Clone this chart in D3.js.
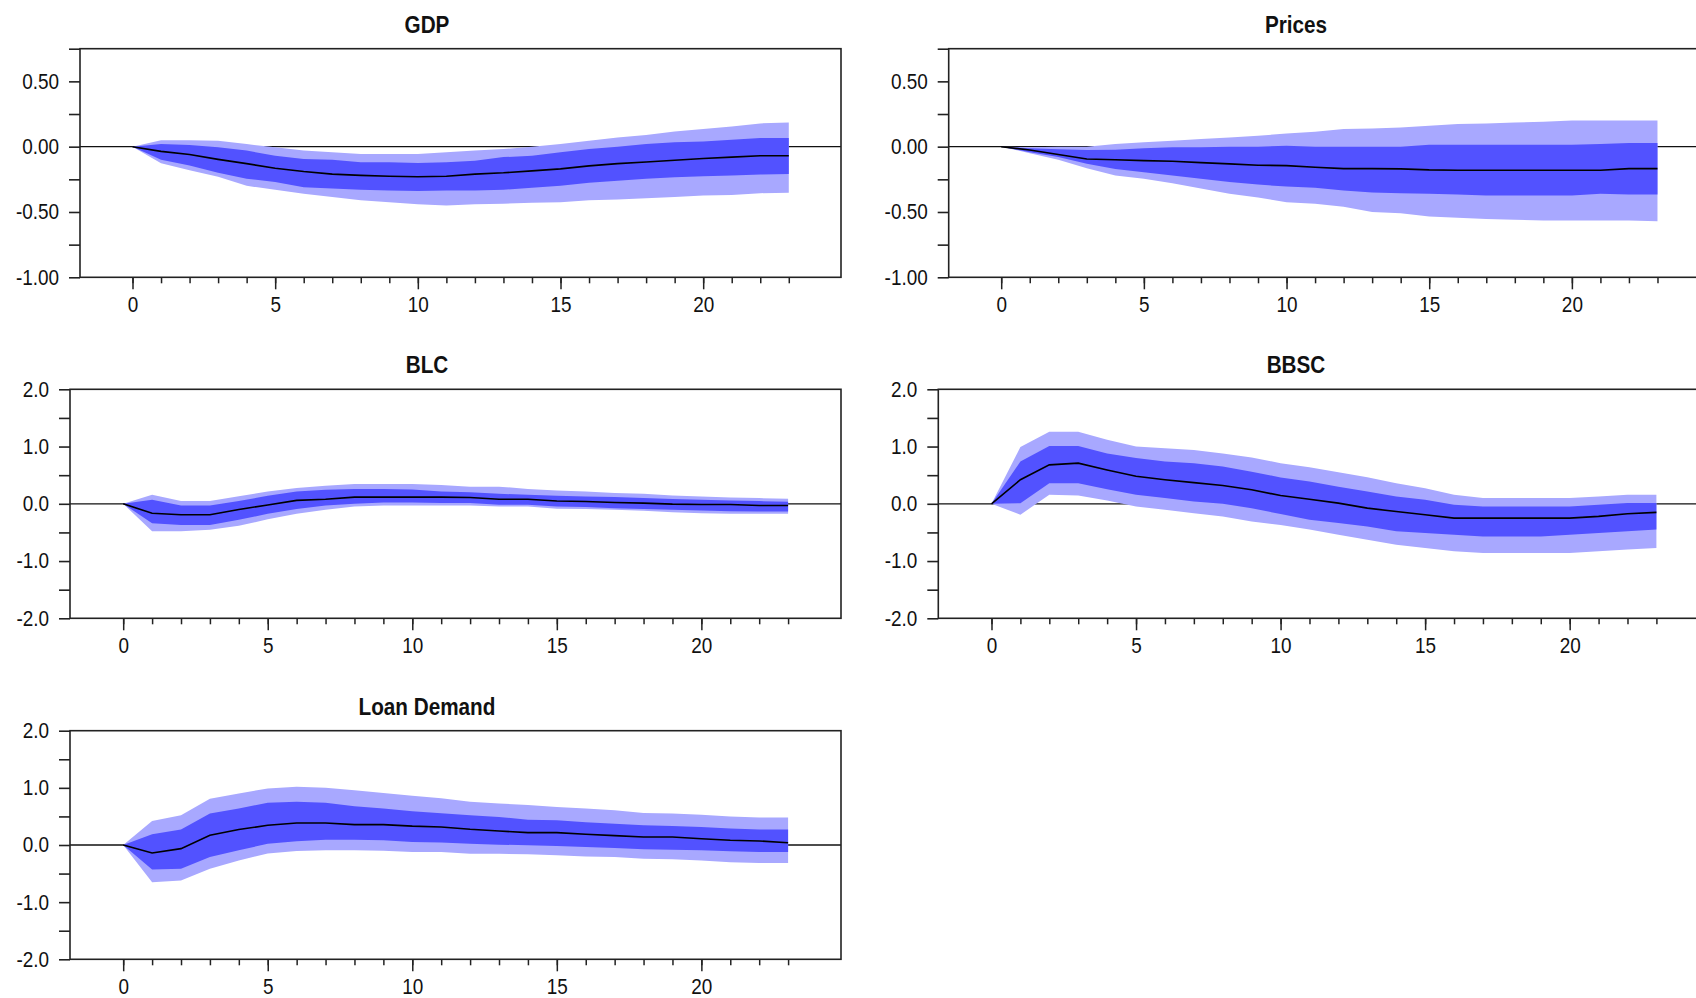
<!DOCTYPE html>
<html>
<head>
<meta charset="utf-8">
<title>Impulse responses</title>
<script src="https://cdn.jsdelivr.net/npm/d3@7"></script>
<style>
  body { margin: 0; background: #fff; }
  svg text { font-family: "Liberation Sans", Arial, sans-serif; fill: #111; }
  .title { font-weight: bold; font-size: 23px; }
  .tick text { font-size: 21.5px; }
</style>
</head>
<body>
<svg id="chart" width="1696" height="998"></svg>
<script>
// horizons (quarters after the shock)
var steps = [0, 1, 2, 3, 4, 5, 6, 7, 8, 9, 10, 11, 12, 13, 14, 15, 16, 17, 18, 19, 20, 21, 22, 23];
var xLabels = [0, 5, 10, 15, 20];

// GDP
var gdpMean = [0, -0.036, -0.06, -0.097, -0.13, -0.165, -0.19, -0.21, -0.22, -0.226, -0.23, -0.226, -0.21, -0.2, -0.185, -0.17, -0.147, -0.13, -0.117, -0.104, -0.09, -0.08, -0.07, -0.07];
var gdpHi90 = [0, 0.05, 0.05, 0.045, 0.02, -0.005, -0.03, -0.043, -0.056, -0.056, -0.056, -0.043, -0.03, -0.018, 0.0, 0.02, 0.045, 0.07, 0.09, 0.117, 0.135, 0.155, 0.178, 0.185];
var gdpHi68 = [0, 0.02, 0.013, -0.005, -0.03, -0.07, -0.095, -0.1, -0.12, -0.12, -0.125, -0.12, -0.107, -0.08, -0.07, -0.043, -0.018, 0.0, 0.02, 0.033, 0.04, 0.053, 0.066, 0.066];
var gdpLo68 = [0, -0.1, -0.145, -0.2, -0.245, -0.27, -0.31, -0.32, -0.33, -0.335, -0.34, -0.335, -0.335, -0.33, -0.315, -0.3, -0.277, -0.26, -0.245, -0.234, -0.226, -0.22, -0.213, -0.21];
var gdpLo90 = [0, -0.127, -0.18, -0.23, -0.3, -0.33, -0.36, -0.385, -0.41, -0.425, -0.44, -0.45, -0.44, -0.437, -0.43, -0.425, -0.41, -0.405, -0.395, -0.386, -0.374, -0.37, -0.356, -0.353];

// Prices
var priMean = [0, -0.025, -0.06, -0.094, -0.1, -0.107, -0.112, -0.122, -0.132, -0.142, -0.145, -0.158, -0.168, -0.168, -0.17, -0.178, -0.18, -0.18, -0.18, -0.18, -0.18, -0.18, -0.168, -0.168];
var priHi90 = [0, -0.005, 0.0, 0.0, 0.02, 0.033, 0.046, 0.058, 0.07, 0.084, 0.1, 0.115, 0.135, 0.14, 0.147, 0.16, 0.173, 0.178, 0.186, 0.19, 0.2, 0.2, 0.2, 0.2];
var priHi68 = [0, -0.013, -0.02, -0.025, -0.023, -0.013, -0.005, -0.005, 0.0, 0.0, 0.008, 0.0, 0.0, 0.0, 0.0, 0.015, 0.015, 0.015, 0.015, 0.015, 0.015, 0.02, 0.028, 0.028];
var priLo68 = [0, -0.043, -0.08, -0.13, -0.17, -0.195, -0.22, -0.246, -0.27, -0.29, -0.305, -0.315, -0.335, -0.35, -0.356, -0.36, -0.366, -0.374, -0.374, -0.374, -0.374, -0.36, -0.366, -0.366];
var priLo90 = [0, -0.05, -0.1, -0.165, -0.22, -0.246, -0.28, -0.32, -0.36, -0.39, -0.425, -0.437, -0.46, -0.5, -0.51, -0.534, -0.544, -0.554, -0.56, -0.565, -0.565, -0.565, -0.565, -0.57];

// BLC
var blcMean = [0, -0.165, -0.19, -0.19, -0.1, -0.02, 0.06, 0.08, 0.117, 0.117, 0.117, 0.117, 0.11, 0.08, 0.08, 0.05, 0.04, 0.023, 0.012, -0.006, -0.012, -0.012, -0.03, -0.03];
var blcHi90 = [0, 0.16, 0.05, 0.05, 0.13, 0.215, 0.274, 0.315, 0.344, 0.344, 0.344, 0.33, 0.3, 0.3, 0.26, 0.233, 0.215, 0.187, 0.175, 0.146, 0.128, 0.11, 0.1, 0.087];
var blcHi68 = [0, 0.07, -0.03, -0.03, 0.05, 0.14, 0.215, 0.245, 0.257, 0.257, 0.25, 0.215, 0.2, 0.175, 0.157, 0.14, 0.128, 0.117, 0.1, 0.082, 0.07, 0.058, 0.047, 0.035];
var blcLo68 = [0, -0.34, -0.37, -0.37, -0.28, -0.175, -0.093, -0.03, 0.0, 0.023, 0.023, 0.012, 0.012, -0.018, -0.018, -0.047, -0.058, -0.076, -0.093, -0.105, -0.117, -0.128, -0.134, -0.134];
var blcLo90 = [0, -0.48, -0.48, -0.455, -0.385, -0.27, -0.175, -0.105, -0.047, -0.03, -0.03, -0.03, -0.03, -0.047, -0.047, -0.087, -0.093, -0.105, -0.122, -0.146, -0.163, -0.175, -0.175, -0.175];

// BBSC
var bbsMean = [0, 0.42, 0.68, 0.71, 0.59, 0.48, 0.42, 0.37, 0.32, 0.244, 0.145, 0.08, 0.012, -0.076, -0.134, -0.19, -0.25, -0.25, -0.25, -0.25, -0.25, -0.22, -0.174, -0.15];
var bbsHi90 = [0, 0.99, 1.26, 1.26, 1.12, 1.0, 0.97, 0.94, 0.88, 0.81, 0.71, 0.64, 0.55, 0.465, 0.36, 0.273, 0.157, 0.1, 0.1, 0.1, 0.1, 0.128, 0.157, 0.157];
var bbsHi68 = [0, 0.74, 1.01, 1.01, 0.88, 0.8, 0.74, 0.71, 0.65, 0.56, 0.46, 0.39, 0.3, 0.215, 0.128, 0.07, -0.017, -0.047, -0.047, -0.047, -0.047, -0.017, 0.012, 0.012];
var bbsLo68 = [0, 0.01, 0.36, 0.36, 0.256, 0.157, 0.1, 0.04, 0.0, -0.076, -0.18, -0.28, -0.337, -0.395, -0.48, -0.51, -0.54, -0.57, -0.57, -0.57, -0.54, -0.51, -0.48, -0.45];
var bbsLo90 = [0, -0.19, 0.157, 0.145, 0.058, -0.047, -0.105, -0.163, -0.22, -0.31, -0.37, -0.45, -0.54, -0.628, -0.715, -0.77, -0.83, -0.86, -0.86, -0.86, -0.86, -0.83, -0.8, -0.77];

// Loan Demand
var loanMean = [0, -0.14, -0.064, 0.17, 0.27, 0.345, 0.386, 0.386, 0.357, 0.357, 0.33, 0.316, 0.275, 0.246, 0.216, 0.216, 0.187, 0.164, 0.14, 0.14, 0.11, 0.082, 0.07, 0.04];
var loanHi90 = [0, 0.42, 0.52, 0.81, 0.9, 0.99, 1.02, 1.0, 0.96, 0.91, 0.86, 0.82, 0.755, 0.725, 0.7, 0.667, 0.64, 0.61, 0.56, 0.55, 0.53, 0.5, 0.48, 0.48];
var loanHi68 = [0, 0.187, 0.27, 0.55, 0.64, 0.74, 0.755, 0.74, 0.68, 0.64, 0.59, 0.555, 0.52, 0.49, 0.444, 0.433, 0.4, 0.374, 0.345, 0.333, 0.316, 0.287, 0.27, 0.27];
var loanLo68 = [0, -0.427, -0.415, -0.21, -0.094, 0.023, 0.064, 0.094, 0.094, 0.082, 0.053, 0.045, 0.023, 0.006, -0.006, -0.018, -0.035, -0.053, -0.076, -0.082, -0.094, -0.11, -0.123, -0.123];
var loanLo90 = [0, -0.65, -0.62, -0.415, -0.27, -0.15, -0.105, -0.094, -0.094, -0.1, -0.123, -0.123, -0.152, -0.152, -0.164, -0.18, -0.2, -0.21, -0.24, -0.25, -0.27, -0.3, -0.316, -0.316];

// y tick values (major ones get a label)
var smallTicks = [-1, -0.75, -0.5, -0.25, 0, 0.25, 0.5, 0.75];
var smallLabels = [-1, -0.5, 0, 0.5];
var bigTicks = [-2, -1.5, -1, -0.5, 0, 0.5, 1, 1.5, 2];
var bigLabels = [-2, -1, 0, 1, 2];

var lightBlue = "#a8a8ff";
var darkBlue = "#5252ff";

// the original uses a condensed face, squeeze the text horizontally
var squeeze = 0.88;
var titleSqueeze = 0.9;

var svg = d3.select("#chart");
svg.append("rect").attr("width", 1696).attr("height", 998).attr("fill", "#fff");

var panels = [
  { title: "GDP", tx: 427, ty: 33, box: [80, 48.7, 841, 277.3], dom: [-1, 0.75], ticks: smallTicks, labels: smallLabels, digits: 2,
    mean: gdpMean, hi90: gdpHi90, hi68: gdpHi68, lo68: gdpLo68, lo90: gdpLo90 },
  { title: "Prices", tx: 1296, ty: 33, box: [948.7, 48.7, 1709.7, 277.3], dom: [-1, 0.75], ticks: smallTicks, labels: smallLabels, digits: 2,
    mean: priMean, hi90: priHi90, hi68: priHi68, lo68: priLo68, lo90: priLo90 },
  { title: "BLC", tx: 427, ty: 373, box: [70, 389.3, 841, 618.3], dom: [-2, 2], ticks: bigTicks, labels: bigLabels, digits: 1,
    mean: blcMean, hi90: blcHi90, hi68: blcHi68, lo68: blcLo68, lo90: blcLo90 },
  { title: "BBSC", tx: 1296, ty: 373, box: [938.3, 389.3, 1709.3, 618.3], dom: [-2, 2], ticks: bigTicks, labels: bigLabels, digits: 1,
    mean: bbsMean, hi90: bbsHi90, hi68: bbsHi68, lo68: bbsLo68, lo90: bbsLo90 },
  { title: "Loan Demand", tx: 427, ty: 715, box: [70, 730.7, 841, 959.3], dom: [-2, 2], ticks: bigTicks, labels: bigLabels, digits: 1,
    mean: loanMean, hi90: loanHi90, hi68: loanHi68, lo68: loanLo68, lo90: loanLo90 }
];

panels.forEach(drawPanel);

function drawPanel(p) {
  var left = p.box[0], top = p.box[1], right = p.box[2], bottom = p.box[3];

  var x = d3.scaleLinear().domain([-1.84, 24.83]).range([left, right]);
  var y = d3.scaleLinear().domain(p.dom).range([bottom, top]);

  var g = svg.append("g");

  // zero line sits under the bands
  g.append("line")
    .attr("x1", left).attr("x2", right)
    .attr("y1", y(0)).attr("y2", y(0))
    .attr("stroke", "#111").attr("stroke-width", 1.3);

  var band90 = d3.area()
    .x(function(d, i) { return x(steps[i]); })
    .y0(function(d, i) { return y(p.lo90[i]); })
    .y1(function(d, i) { return y(p.hi90[i]); });

  var band68 = d3.area()
    .x(function(d, i) { return x(steps[i]); })
    .y0(function(d, i) { return y(p.lo68[i]); })
    .y1(function(d, i) { return y(p.hi68[i]); });

  g.append("path").datum(steps).attr("d", band90).attr("fill", lightBlue);
  g.append("path").datum(steps).attr("d", band68).attr("fill", darkBlue);

  var meanLine = d3.line()
    .x(function(d, i) { return x(steps[i]); })
    .y(function(d) { return y(d); });

  g.append("path").datum(p.mean)
    .attr("d", meanLine)
    .attr("fill", "none")
    .attr("stroke", "#000")
    .attr("stroke-width", 1.6);

  // frame
  g.append("rect")
    .attr("x", left).attr("y", top)
    .attr("width", right - left).attr("height", bottom - top)
    .attr("fill", "none").attr("stroke", "#222").attr("stroke-width", 1.6);

  // y axis, every tick the same length, labels on the major ones
  var yAxis = g.append("g")
    .attr("transform", "translate(" + left + ",0)")
    .call(d3.axisLeft(y).tickValues(p.ticks).tickSize(11).tickPadding(10)
      .tickFormat(function(d) {
        return p.labels.indexOf(d) !== -1 ? d.toFixed(p.digits) : "";
      }));
  yAxis.select(".domain").remove();
  yAxis.selectAll(".tick line").attr("stroke", "#222").attr("stroke-width", 1.6);
  yAxis.selectAll(".tick text")
    .attr("x", -21 / squeeze)
    .attr("transform", "scale(" + squeeze + ",1)");

  // x axis: short tick per step, long tick + label every 5
  var xMinor = g.append("g")
    .attr("transform", "translate(0," + bottom + ")")
    .call(d3.axisBottom(x).tickValues(steps).tickSize(6).tickFormat(""));
  xMinor.select(".domain").remove();
  xMinor.selectAll(".tick line").attr("stroke", "#222").attr("stroke-width", 1.5);

  var xMajor = g.append("g")
    .attr("transform", "translate(0," + bottom + ")")
    .call(d3.axisBottom(x).tickValues(xLabels).tickSize(12).tickPadding(7).tickFormat(function(d) { return d; }));
  xMajor.select(".domain").remove();
  xMajor.selectAll(".tick line").attr("stroke", "#222").attr("stroke-width", 1.5);
  xMajor.selectAll(".tick text").attr("transform", "scale(" + squeeze + ",1)");

  svg.append("text")
    .attr("class", "title")
    .attr("x", p.tx / titleSqueeze).attr("y", p.ty)
    .attr("transform", "scale(" + titleSqueeze + ",1)")
    .attr("text-anchor", "middle")
    .text(p.title);
}
</script>
</body>
</html>
